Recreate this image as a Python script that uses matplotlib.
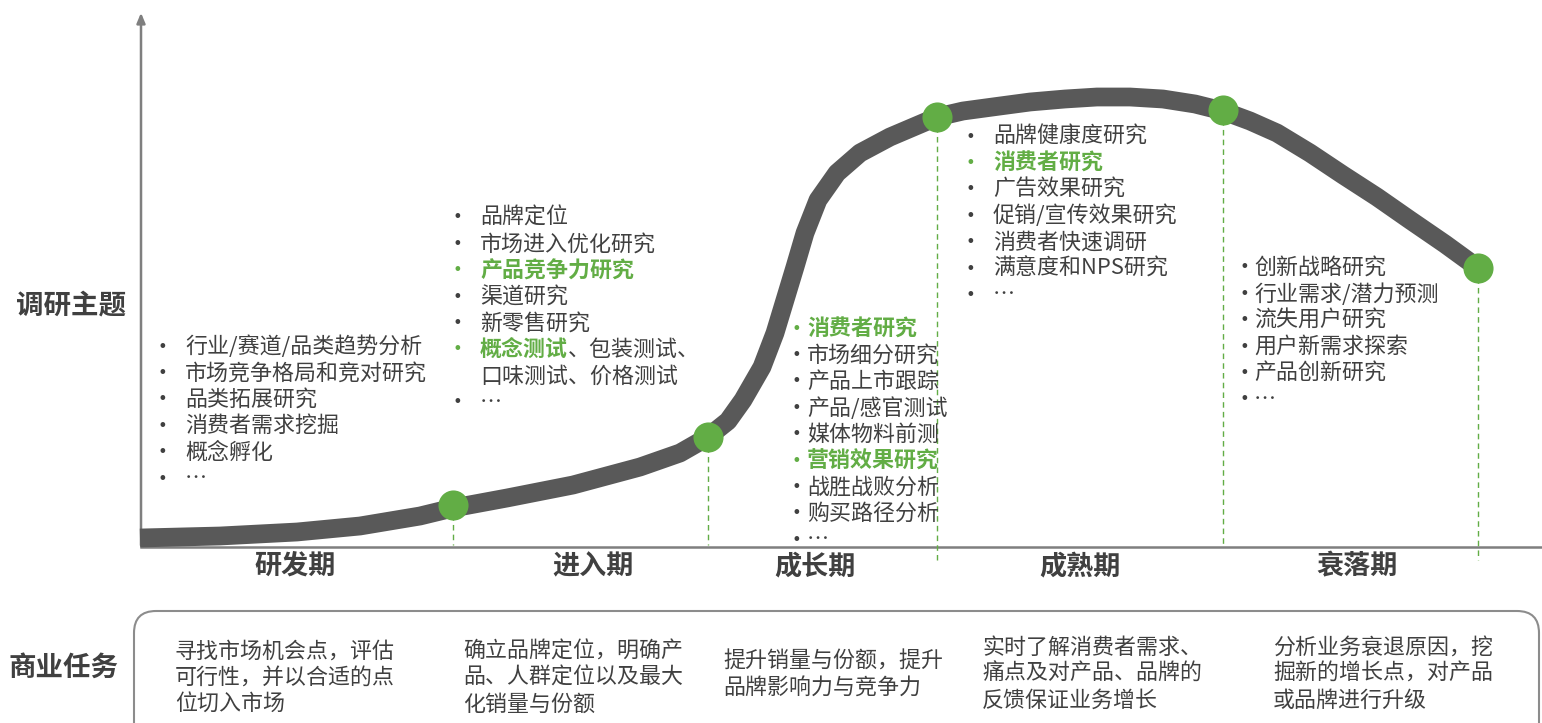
import matplotlib
matplotlib.use("Agg")
import matplotlib.pyplot as plt
from matplotlib.patches import FancyBboxPatch

plt.rcParams['font.family'] = ['Noto Sans CJK SC', 'DejaVu Sans']

# ---------------- data ----------------
curve_x = [140, 220, 297, 360, 420, 453, 507, 573, 640, 680, 708, 728, 743, 762, 775, 785,
           795, 805, 818, 837, 860, 890, 937, 963, 1000, 1030, 1065, 1097, 1130, 1163,
           1195, 1223, 1250, 1277, 1310, 1343, 1377, 1410, 1445, 1478]
curve_y = [538, 536, 532, 526, 516, 508, 498, 485, 467, 453, 437, 421, 400, 367, 333, 300,
           267, 233, 200, 173, 153, 137, 117, 111, 106, 102, 99, 97, 97, 99,
           104, 111, 121, 133, 153, 175, 197, 220, 244, 268]

milestone_x = [453, 708, 937, 1223, 1478]
milestone_y = [505, 437, 117, 110, 268]

phases = ["研发期", "进入期", "成长期", "成熟期", "衰落期"]
phase_x = [295, 593, 815, 1080, 1357]

# research topics per phase: (text, highlighted, bullet)
topics_1 = [("行业/赛道/品类趋势分析", False, True), ("市场竞争格局和竞对研究", False, True),
            ("品类拓展研究", False, True), ("消费者需求挖掘", False, True),
            ("概念孵化", False, True), ("…", False, True)]
topics_2 = [("品牌定位", False, True), ("市场进入优化研究", False, True),
            ("产品竞争力研究", True, True), ("渠道研究", False, True),
            ("新零售研究", False, True), ("概念测试|、包装测试、", True, True),
            ("口味测试、价格测试", False, False), ("…", False, True)]
topics_3 = [("消费者研究", True, True), ("市场细分研究", False, True),
            ("产品上市跟踪", False, True), ("产品/感官测试", False, True),
            ("媒体物料前测", False, True), ("营销效果研究", True, True),
            ("战胜战败分析", False, True), ("购买路径分析", False, True), ("…", False, True)]
topics_4 = [("品牌健康度研究", False, True), ("消费者研究", True, True),
            ("广告效果研究", False, True), ("促销/宣传效果研究", False, True),
            ("消费者快速调研", False, True), ("满意度和NPS研究", False, True), ("…", False, True)]
topics_5 = [("创新战略研究", False, True), ("行业需求/潜力预测", False, True),
            ("流失用户研究", False, True), ("用户新需求探索", False, True),
            ("产品创新研究", False, True), ("…", False, True)]

tasks = ["寻找市场机会点，评估\n可行性，并以合适的点\n位切入市场",
         "确立品牌定位，明确产\n品、人群定位以及最大\n化销量与份额",
         "提升销量与份额，提升\n品牌影响力与竞争力",
         "实时了解消费者需求、\n痛点及对产品、品牌的\n反馈保证业务增长",
         "分析业务衰退原因，挖\n掘新的增长点，对产品\n或品牌进行升级"]

# ---------------- layout / style ----------------
W, H = 1542, 723
fig = plt.figure(figsize=(W / 100, H / 100), dpi=100)
ax = fig.add_axes([0, 0, 1, 1])
ax.set_xlim(0, W)
ax.set_ylim(H, 0)
ax.axis("off")

DARK = "#404040"
GRAY = "#595959"
AXIS = "#7f7f7f"
GREEN = "#62ad45"
FS = 15.8
LH = 26.4

# axes
ax.plot([141, 1542], [547, 547], color=AXIS, lw=1.8, zorder=1)
ax.annotate("", xy=(141, 10), xytext=(141, 548),
            arrowprops=dict(arrowstyle="-|>,head_width=0.25,head_length=0.6",
                            color=AXIS, lw=1.8), zorder=1)

# dashed guides
guide_bottom = [545, 545, 560, 545, 560]
for mx, my, gb in zip(milestone_x, milestone_y, guide_bottom):
    ax.plot([mx, mx], [my, gb], color=GREEN, lw=1.0, ls=(0, (4, 3)), zorder=2)

# curve
ax.plot(curve_x, curve_y, color=GRAY, lw=13.5, solid_capstyle="butt",
        solid_joinstyle="round", zorder=3)
ax.scatter(milestone_x, milestone_y, s=470, color=GREEN, zorder=4, linewidths=0)

# phase labels
for p, px in zip(phases, phase_x):
    ax.text(px, 566, p, fontsize=19.5, fontweight="bold", color=DARK,
            ha="center", va="center")

ax.text(71, 305, "调研主题", fontsize=19.8, fontweight="bold", color=DARK,
        ha="center", va="center")
ax.text(64, 668, "商业任务", fontsize=19.8, fontweight="bold", color=DARK,
        ha="center", va="center")


def draw_list(items, bx, tx, y0):
    px_per_char = FS * 100 / 72
    for i, (txt, hl, bul) in enumerate(items):
        y = y0 + i * LH
        col = GREEN if hl else DARK
        if bul:
            ax.text(bx, y, "•", fontsize=FS * 0.75, color=col, ha="center",
                    va="center", family=["DejaVu Sans"])
        if "|" in txt:
            a, b = txt.split("|")
            ax.text(tx, y, a, fontsize=FS, color=GREEN, fontweight="bold",
                    ha="left", va="center")
            ax.text(tx + len(a) * px_per_char, y, b, fontsize=FS, color=DARK,
                    ha="left", va="center")
        else:
            ax.text(tx, y, txt, fontsize=FS, color=col,
                    fontweight="bold" if hl else "normal", ha="left", va="center")


draw_list(topics_1, 162, 185, 347)
draw_list(topics_2, 457, 480, 218)
draw_list(topics_3, 796, 807, 329)
draw_list(topics_4, 970, 993, 137)
draw_list(topics_5, 1244, 1254, 268)

# bottom rounded box
box = FancyBboxPatch((134, 611), 1405, 140,
                     boxstyle="round,pad=0,rounding_size=22",
                     fc="none", ec="#8c8c8c", lw=1.5, zorder=1)
ax.add_patch(box)

task_x = [175, 463, 723, 982, 1273]
task_y = [678, 678, 675, 674, 674]
for t, tx, ty in zip(tasks, task_x, task_y):
    ax.text(tx, ty, t, fontsize=FS, color=DARK, ha="left", va="center",
            linespacing=1.27)

fig.savefig("out.png", dpi=100)
